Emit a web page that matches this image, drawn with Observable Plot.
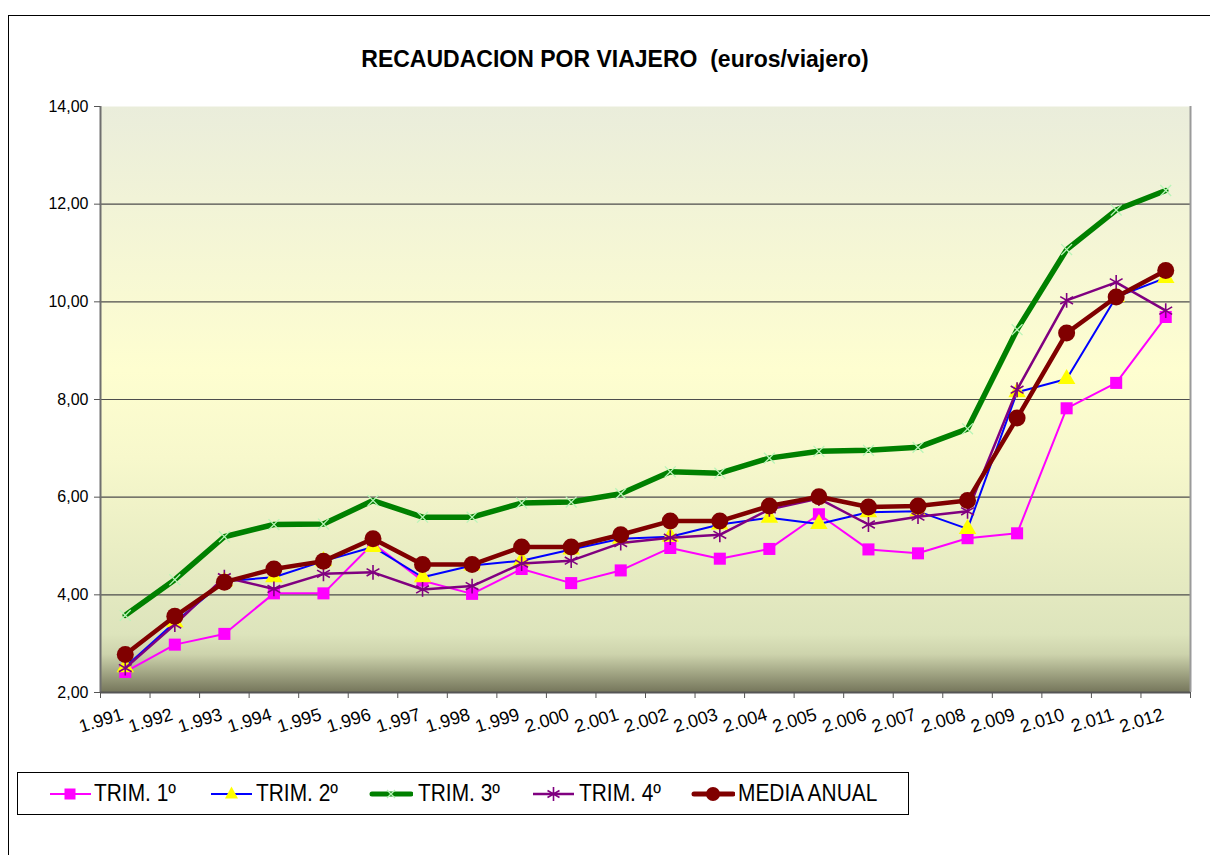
<!DOCTYPE html>
<html>
<head>
<meta charset="utf-8">
<script src="https://cdn.jsdelivr.net/npm/d3@7"></script>
<script src="https://cdn.jsdelivr.net/npm/@observablehq/plot@0.6"></script>
<style>
  html, body { margin: 0; padding: 0; background: #fff; }
  #page { position: relative; width: 1210px; height: 855px; overflow: hidden; font-family: "Liberation Sans", Arial, sans-serif; }
  #frame { position: absolute; left: 8px; top: 15px; width: 1210px; height: 900px; border-left: 1px solid #000; border-top: 1px solid #000; }
  #title { position: absolute; left: 0; width: 1230px; top: 46px; text-align: center; font-weight: bold; font-size: 23px; color: #000; white-space: pre; }
  #chart { position: absolute; left: 0; top: 90px; }
  #legend { position: absolute; left: 17px; top: 772px; width: 890px; height: 41px; border: 1px solid #000; background: #fff; }
  .li { position: absolute; top: 0; height: 41px; }
  .li svg { position: absolute; top: 10px; }
  .lt { position: absolute; top: 6px; font-size: 24px; transform: scaleX(0.87); transform-origin: left center; white-space: nowrap; color: #000; }
</style>
</head>
<body>
<div id="page">
  <div id="frame"></div>
  <div id="title">RECAUDACION POR VIAJERO  (euros/viajero)</div>
  <div id="chart"></div>
  <div id="legend"></div>
</div>
<script>
// ---- data ----
const years = [1991,1992,1993,1994,1995,1996,1997,1998,1999,2000,2001,2002,2003,2004,2005,2006,2007,2008,2009,2010,2011,2012];
const yearLabels = ["1.991","1.992","1.993","1.994","1.995","1.996","1.997","1.998","1.999","2.000","2.001","2.002","2.003","2.004","2.005","2.006","2.007","2.008","2.009","2.010","2.011","2.012"];
const trim1 = [2.42,2.98,3.20,4.03,4.03,5.05,4.29,4.02,4.53,4.24,4.50,4.96,4.74,4.94,5.65,4.93,4.85,5.16,5.26,7.82,8.34,9.69];
const trim2 = [2.52,3.44,4.28,4.36,4.69,4.98,4.36,4.60,4.70,4.93,5.15,5.19,5.44,5.58,5.45,5.69,5.71,5.35,8.15,8.42,10.10,10.49];
const trim3 = [3.58,4.31,5.19,5.44,5.45,5.93,5.59,5.59,5.88,5.90,6.07,6.52,6.49,6.80,6.94,6.96,7.02,7.40,9.43,11.07,11.88,12.28];
const trim4 = [2.50,3.39,4.36,4.12,4.43,4.46,4.11,4.18,4.64,4.70,5.06,5.17,5.23,5.75,5.97,5.44,5.60,5.71,8.20,10.03,10.40,9.82];
const media = [2.78,3.56,4.26,4.53,4.69,5.15,4.62,4.62,4.98,4.98,5.23,5.51,5.51,5.82,6.01,5.80,5.82,5.93,7.62,9.36,10.10,10.64];
const yTicks = [2,4,6,8,10,12,14];
const gridValues = [4,6,8,10,12];
const seriesNames = ["TRIM. 1º","TRIM. 2º","TRIM. 3º","TRIM. 4º","MEDIA ANUAL"];

// ---- build table ----
const toRows = (vals) => years.map((yr, i) => ({year: yr, value: vals[i], label: yearLabels[i]}));
const r1 = toRows(trim1), r2 = toRows(trim2), r3 = toRows(trim3), r4 = toRows(trim4), rm = toRows(media);
const boundaries = years.map(y => y - 0.5).concat([years[years.length - 1] + 0.5]);
const font = "'Liberation Sans', Arial, sans-serif";

const plot = Plot.plot({
  width: 1210,
  height: 660,
  marginLeft: 100,
  marginRight: 20,
  marginTop: 16,
  marginBottom: 58,
  style: {fontFamily: font, background: "transparent", overflow: "visible"},
  x: {type: "linear", domain: [boundaries[0], boundaries[boundaries.length - 1]]},
  y: {domain: [2, 14]},
  marks: [
    Plot.frame({fill: "url(#bgGrad)", stroke: null}),
    Plot.ruleY(gridValues, {stroke: "#4d4d4d", strokeWidth: 1.2}),
    Plot.ruleX([boundaries[boundaries.length - 1]], {stroke: "#9a9a9a", strokeWidth: 2}),
    Plot.ruleX([boundaries[0]], {stroke: "#6f6f6f", strokeWidth: 2}),
    Plot.ruleY([2], {stroke: "#555", strokeWidth: 2}),
    Plot.axisY({ticks: yTicks, tickFormat: d => d.toFixed(2).replace(".", ","), tickSize: 6, tickPadding: 6, fontSize: 16, stroke: "#555", color: "#000", label: null}),
    Plot.axisX({ticks: boundaries, tickFormat: () => "", tickSize: 6, stroke: "#555", label: null}),
    Plot.text(r1, {x: "year", y: 2, text: "label", rotate: -17, textAnchor: "end", lineAnchor: "bottom", dy: 27, dx: -1, fontSize: 18, fill: "#000"}),
    // TRIM 1
    Plot.line(r1, {x: "year", y: "value", stroke: "#ff00ff", strokeWidth: 2}),
    Plot.dot(r1, {x: "year", y: "value", symbol: "square", r: 6.8, fill: "#ff00ff", stroke: null}),
    // TRIM 2
    Plot.line(r2, {x: "year", y: "value", stroke: "#0000ff", strokeWidth: 2}),
    Plot.dot(r2, {x: "year", y: "value", symbol: "triangle", r: 6.5, fill: "#ffff00", stroke: null}),
    // TRIM 3
    Plot.line(r3, {x: "year", y: "value", stroke: "#008000", strokeWidth: 5.5}),
    Plot.dot(r3, {x: "year", y: "value", symbol: "times", r: 5, stroke: "#b8f5b8", strokeWidth: 1.3}),
    // TRIM 4
    Plot.line(r4, {x: "year", y: "value", stroke: "#800080", strokeWidth: 2.5}),
    Plot.dot(r4, {x: "year", y: "value", symbol: "asterisk", r: 7, stroke: "#800080", strokeWidth: 1.6}),
    // MEDIA
    Plot.line(rm, {x: "year", y: "value", stroke: "#800000", strokeWidth: 4.5}),
    Plot.dot(rm, {x: "year", y: "value", symbol: "circle", r: 8.5, fill: "#800000", stroke: null})
  ]
});

// gradient background for the plot area
const svgSel = d3.select(plot);
const defs = svgSel.insert("defs", ":first-child");
const grad = defs.append("linearGradient").attr("id", "bgGrad").attr("x1", 0).attr("y1", 0).attr("x2", 0).attr("y2", 1);
[[0, "#eaeddb"], [0.45, "#fefed0"], [0.6, "#f7f8cc"], [0.9, "#dde4bc"], [0.935, "#cdd3ac"], [1, "#74755a"]]
  .forEach(([o, c]) => grad.append("stop").attr("offset", o).attr("stop-color", c));

document.getElementById("chart").appendChild(plot);

// ---- legend ----
const legendItems = [
  {name: seriesNames[0], left: 31, textLeft: 76, draw: () => `<line x1="1" y1="11" x2="42" y2="11" stroke="#ff00ff" stroke-width="2"/><rect x="15.5" y="5.5" width="11" height="11" fill="#ff00ff"/>`},
  {name: seriesNames[1], left: 192, textLeft: 238, draw: () => `<line x1="1" y1="11" x2="42" y2="11" stroke="#0000ff" stroke-width="2"/><polygon points="21.5,3.5 28,15.5 15,15.5" fill="#ffff00"/>`},
  {name: seriesNames[2], left: 351, textLeft: 400, draw: () => `<line x1="3" y1="11" x2="42" y2="11" stroke="#008000" stroke-width="5" stroke-linecap="round"/><path d="M18,7 L26,15 M26,7 L18,15" stroke="#b8f5b8" stroke-width="1.3"/>`},
  {name: seriesNames[3], left: 514, textLeft: 561, draw: () => `<line x1="1" y1="11" x2="42" y2="11" stroke="#800080" stroke-width="2.5"/><path d="M21.5,4 L21.5,18 M15.5,7.5 L27.5,14.5 M27.5,7.5 L15.5,14.5" stroke="#800080" stroke-width="1.6"/>`},
  {name: seriesNames[4], left: 673, textLeft: 720, draw: () => `<line x1="3" y1="11" x2="42" y2="11" stroke="#800000" stroke-width="5" stroke-linecap="round"/><circle cx="22" cy="11" r="7" fill="#800000"/>`}
];
const legend = document.getElementById("legend");
legendItems.forEach(it => {
  const d = document.createElement("div");
  d.className = "li";
  d.style.left = it.left + "px";
  d.innerHTML = `<svg width="44" height="22" style="left:0">${it.draw()}</svg>`;
  legend.appendChild(d);
  const t = document.createElement("div");
  t.className = "lt";
  t.style.left = it.textLeft + "px";
  t.textContent = it.name;
  legend.appendChild(t);
});
</script>
</body>
</html>
